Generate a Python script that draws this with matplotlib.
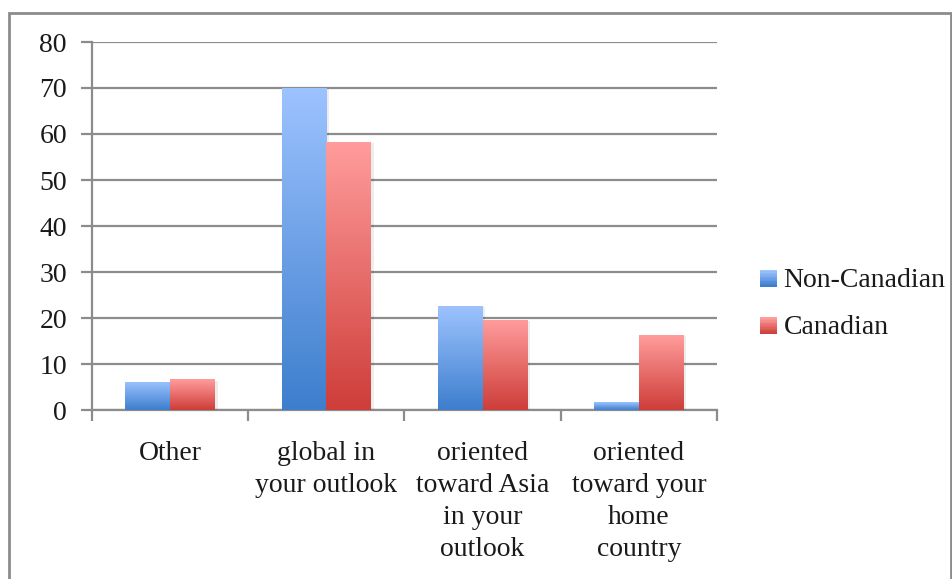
import numpy as np
import matplotlib
matplotlib.use("Agg")
import matplotlib.pyplot as plt
from matplotlib.patches import Rectangle
from matplotlib.legend_handler import HandlerBase
from matplotlib.colors import LinearSegmentedColormap
import matplotlib.patheffects as pe

categories = ["Other", "global in\nyour outlook", "oriented\ntoward Asia\nin your\noutlook",
              "oriented\ntoward your\nhome\ncountry"]
series_names = ["Non-Canadian", "Canadian"]
non_canadian = [6.1, 70.0, 22.6, 1.7]
canadian = [6.7, 58.3, 19.6, 16.3]
y_ticks = [0, 10, 20, 30, 40, 50, 60, 70, 80]

gradients = {
    "Non-Canadian": ("#9DC3FF", "#3D7ECD"),
    "Canadian": ("#FF9D9C", "#CE3D39"),
}
grid_color = "#8C8C8C"
text_color = "#1A1A1A"

plt.rcParams["font.family"] = ["Liberation Serif", "DejaVu Serif"]
plt.rcParams["font.size"] = 20
plt.rcParams["text.color"] = text_color
plt.rcParams["xtick.labelcolor"] = text_color
plt.rcParams["ytick.labelcolor"] = text_color

fig = plt.figure(figsize=(9.53, 5.79), dpi=100)
ax = fig.add_axes([92 / 953, 169 / 579, 625 / 953, 368 / 579])

x = np.arange(len(categories))
width = 0.286
grad = np.linspace(1, 0, 256).reshape(-1, 1)

for i, (name, vals) in enumerate(zip(series_names, [non_canadian, canadian])):
    top, bottom = gradients[name]
    cmap = LinearSegmentedColormap.from_list(name, [bottom, top])
    offs = (i - 0.5) * width
    bars = ax.bar(x + offs, vals, width, color=bottom, zorder=3, linewidth=0,
                  label=name,
                  path_effects=[pe.SimplePatchShadow(offset=(2, -1), shadow_rgbFace="#000000",
                                                     alpha=0.07), pe.Normal()])
    for b in bars:
        x0, w, h = b.get_x(), b.get_width(), b.get_height()
        im = ax.imshow(grad, cmap=cmap, aspect="auto", extent=(x0, x0 + w, 0, h),
                       zorder=4, interpolation="bicubic")
        im.set_clip_path(b)

ax.set_xlim(-0.5, len(categories) - 0.5)
ax.set_ylim(0, 80)
ax.set_yticks(y_ticks)
ax.yaxis.grid(True, color=grid_color, linewidth=1.6, zorder=0)
ax.set_axisbelow(True)

# category boundary ticks, labels centred under each group
ax.set_xticks(np.arange(len(categories) + 1) - 0.5)
ax.set_xticklabels([])
ax.set_xticks(x, minor=True)
ax.set_xticklabels(categories, minor=True, linespacing=1.38, va="top")
ax.tick_params(axis="x", which="minor", length=0, pad=22)
ax.tick_params(axis="x", which="major", length=8, width=1.6, color=grid_color)
ax.tick_params(axis="y", length=8, width=1.6, color=grid_color, pad=10)

for side in ["top", "right"]:
    ax.spines[side].set_visible(False)
for side in ["left", "bottom"]:
    ax.spines[side].set_color(grid_color)
    ax.spines[side].set_linewidth(1.6)


class GradientHandler(HandlerBase):
    def create_artists(self, legend, orig_handle, xdescent, ydescent, width, height,
                       fontsize, trans):
        top, bottom = gradients[orig_handle.get_label()]
        cmap = LinearSegmentedColormap.from_list("h", [bottom, top])
        n = 12
        size = height
        x0 = xdescent + width - size
        artists = []
        for k in range(n):
            r = Rectangle((x0, -ydescent + size * k / n - 1), size, size / n + 0.3,
                          facecolor=cmap(k / (n - 1)), edgecolor="none", transform=trans)
            artists.append(r)
        return artists


handles = [Rectangle((0, 0), 1, 1, label=n) for n in series_names]
leg = fig.legend(handles=handles, labels=series_names, loc="center left",
                 bbox_to_anchor=(735 / 953, 1 - 304 / 579), frameon=False,
                 handler_map={Rectangle: GradientHandler()}, handlelength=0.6,
                 handleheight=0.55, handletextpad=0.25, labelspacing=0.81)

fig.patches.append(Rectangle((9 / 953, -0.02), 942 / 953, 1.02 - 13 / 579,
                             transform=fig.transFigure, fill=False,
                             edgecolor=grid_color, linewidth=2))

fig.savefig("out.png", dpi=100)
